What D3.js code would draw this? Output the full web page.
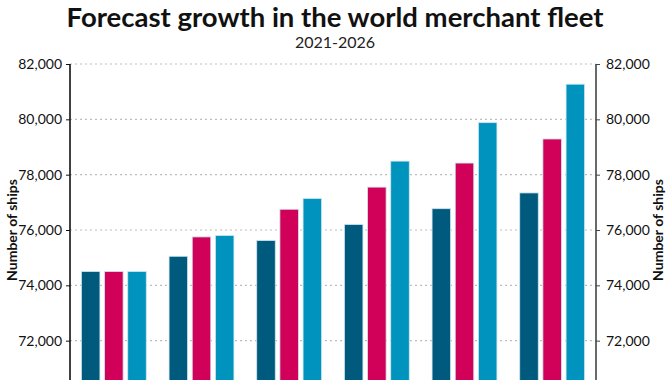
<!DOCTYPE html>
<html>
<head>
<meta charset="utf-8">
<script src="https://cdn.jsdelivr.net/npm/d3@7"></script>
<style>
html,body{margin:0;padding:0;background:#fff;overflow:hidden;}
svg{display:block;font-family:Lato,"Liberation Sans",sans-serif;}
</style>
</head>
<body>
<svg id="chart" width="670" height="380"></svg>
<script>
const years = ["2021","2022","2023","2024","2025","2026"];
const seriesNames = ["Low","Mid","High"];
const lowValues  = [74500, 75050, 75620, 76200, 76770, 77340];
const midValues  = [74500, 75750, 76750, 77550, 78420, 79290];
const highValues = [74500, 75800, 77140, 78490, 79880, 81270];
const seriesColors = ["#005a7e", "#d10058", "#0093be"];
const yTicks = [72000, 74000, 76000, 78000, 80000, 82000];

(function () {
const series = [lowValues, midValues, highValues];

const svg = d3.select("#chart");
const mLeft = 70, mRight = 596, mTop = 64, mBottom = 396;

const x0 = d3.scaleBand().domain(years).range([mLeft, mRight]).paddingInner(0.26).paddingOuter(0.13);
const x1 = d3.scaleBand().domain(seriesNames).range([0, x0.bandwidth()]).paddingInner(0.2);
const y = d3.scaleLinear().domain([70000, 82000]).range([mBottom, mTop]);

// title
svg.append("text").attr("x", 335).attr("y", 27).attr("text-anchor", "middle")
  .attr("font-size", 27.5).attr("font-weight", "bold").attr("fill", "#111")
  .text("Forecast growth in the world merchant fleet");
svg.append("text").attr("x", 335).attr("y", 48).attr("text-anchor", "middle")
  .attr("font-size", 16).attr("fill", "#222").text("2021-2026");

// gridlines
svg.append("g").selectAll("line").data(yTicks).join("line")
  .attr("x1", mLeft).attr("x2", mRight)
  .attr("y1", d => y(d)).attr("y2", d => y(d))
  .attr("stroke", "#bdbdbd").attr("stroke-width", 1.2).attr("stroke-dasharray", "2,3");

// bars
const groups = svg.append("g").selectAll("g").data(years).join("g")
  .attr("transform", d => `translate(${x0(d)},0)`);
groups.selectAll("rect").data((d, i) => series.map((s, j) => ({name: seriesNames[j], v: s[i], c: seriesColors[j]})))
  .join("rect")
  .attr("x", d => x1(d.name)).attr("width", x1.bandwidth())
  .attr("y", d => y(d.v)).attr("height", d => y(70000) - y(d.v))
  .attr("fill", d => d.c).attr("stroke", "#cfe6ef").attr("stroke-width", 0.8);

// axes
const fmt = d3.format(",");
const yl = svg.append("g").attr("transform", `translate(${mLeft},0)`)
  .call(d3.axisLeft(y).tickValues(yTicks).tickFormat(fmt).tickSize(4).tickPadding(4));
yl.select(".domain").attr("stroke", "#111").attr("stroke-width", 1.6).attr("d", `M0,${mTop}V${mBottom}`);
yl.selectAll(".tick line").attr("stroke", "#111");
yl.selectAll("text").attr("font-size", 14).attr("fill", "#111").attr("font-family", "Lato");

const yr = svg.append("g").attr("transform", `translate(${mRight},0)`)
  .call(d3.axisRight(y).tickValues(yTicks).tickFormat(fmt).tickSize(4).tickPadding(6));
yr.select(".domain").attr("stroke", "#444").attr("stroke-width", 1.6).attr("d", `M0,${mTop}V${mBottom}`);
yr.selectAll(".tick line").attr("stroke", "#444");
yr.selectAll("text").attr("font-size", 14).attr("fill", "#111").attr("font-family", "Lato");

// axis titles
const cy = (mTop + mBottom) / 2;
svg.append("text").attr("transform", `translate(17,${cy}) rotate(-90)`).attr("text-anchor", "middle")
  .attr("font-size", 14).attr("font-weight", "bold").attr("fill", "#111").text("Number of ships");
svg.append("text").attr("transform", `translate(663,${cy}) rotate(-90)`).attr("text-anchor", "middle")
  .attr("font-size", 14).attr("font-weight", "bold").attr("fill", "#111").text("Number of ships");
})();
</script>
</body>
</html>
